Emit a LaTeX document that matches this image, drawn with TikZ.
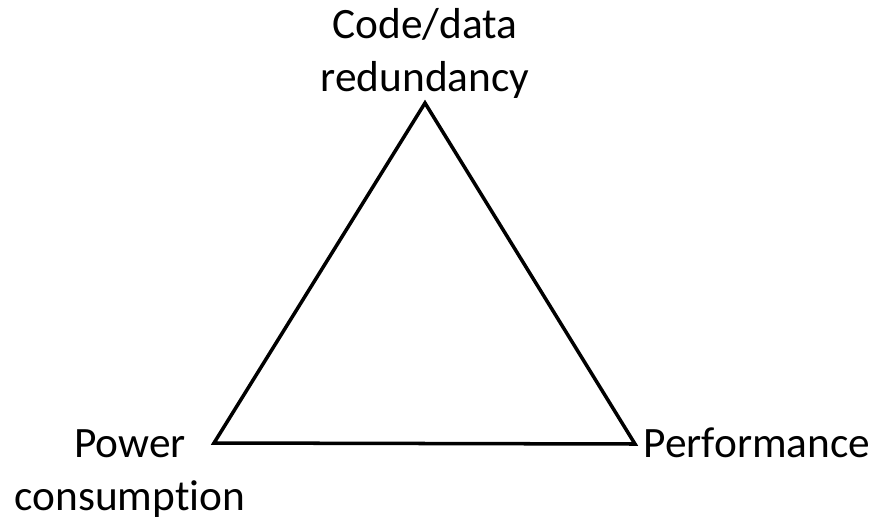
\documentclass[tikz,border=0pt]{standalone}
\usepackage{fontspec}
\setmainfont[Ligatures=NoCommon]{Carlito}
\usetikzlibrary{positioning}
\begin{document}
\begin{tikzpicture}[x=0.03cm,y=-0.03cm]
 \tikzset{side/.style={line width=3pt,line join=miter},
   corner/.style={font=\fontsize{37}{45}\selectfont,inner sep=0pt,align=center,anchor=base}}
 \useasboundingbox (0,0) rectangle (882,523);
 \coordinate (top) at (425,103);
 \coordinate (left) at (214,443);
 \coordinate (right) at (635,444);

 \node[corner] (redund) at (425,91) {Code/data\\redundancy};
 \node[corner] (power) at (130,510) {Power\\consumption};
 \node[corner] (perf) at (757,457) {Performance};

 \draw[side] (top) -- (left) -- (right) -- cycle;
\end{tikzpicture}
\end{document}
